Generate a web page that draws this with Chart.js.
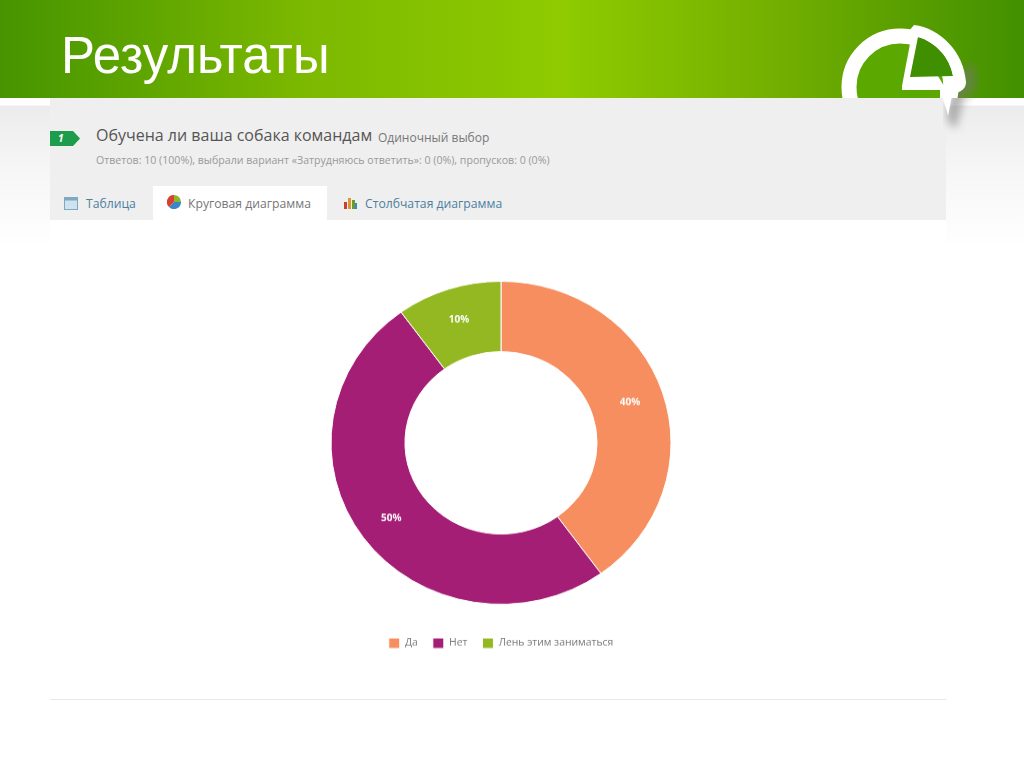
<!DOCTYPE html>
<html lang="ru">
<head>
<meta charset="utf-8">
<title>Результаты</title>
<script src="https://cdn.jsdelivr.net/npm/chart.js@4"></script>
<style>
html, body { margin: 0; padding: 0; background: #fff; overflow: hidden; }
#slide { position: relative; width: 1024px; height: 767px; overflow: hidden; font-family: "Open Sans", sans-serif;
    background: linear-gradient(#fff 105px, #ececec 106px, #f6f6f6 170px, #fff 250px); }
#header { position: absolute; left: 0; top: 0; width: 1024px; height: 98px;
    background: linear-gradient(90deg, #469400 0%, #7cb900 30%, #8fcb00 55%, #74b000 75%, #429000 100%); }
#title { position: absolute; left: 61px; top: 26px; color: #fff; font: 51px "Liberation Sans", Arial, sans-serif; line-height: 60px; }
#panel { position: absolute; left: 50px; top: 98px; width: 896px; height: 122px; background: #efefef; }
#body { position: absolute; left: 50px; top: 220px; width: 896px; height: 479px; background: #fff; border-bottom: 1px solid #e8e8e8; }
#chartCanvas { position: absolute; left: 0; top: 0; transform-origin: 0 0; transform: scaleY(0.95); }
.abs { position: absolute; white-space: nowrap; }
#question { left: 96px; top: 124px; font-size: 16px; color: #555; }
#qtype { left: 378px; top: 129px; font-size: 12px; color: #777; }
#stats { left: 96px; top: 153px; font-size: 10.6px; color: #999; }
#activeTab { position: absolute; left: 153px; top: 186px; width: 174px; height: 34px; background: #fff; }
.tab { top: 195px; font-size: 12.2px; color: #4d7f9f; }
#logo { position: absolute; left: 780px; top: 0; }
</style>
</head>
<body>
<div id="slide">
    <div id="header"></div>
    <div id="title">Результаты</div>
    <div id="panel"></div>
    <svg id="logo" width="244" height="160" viewBox="0 0 244 160">
        <defs>
            <filter id="soft"><feGaussianBlur stdDeviation="4"/></filter>
            <clipPath id="aboveFold"><rect x="0" y="0" width="244" height="98"/></clipPath>
        </defs>
        <path d="M190 62 C 202 82 196 92 184 98 L 176 128 C 162 124 166 104 176 80 Z" fill="#777" opacity="0.55" filter="url(#soft)"/>
        <g clip-path="url(#aboveFold)">
            <circle cx="120" cy="87" r="44" fill="#5aa800"/>
            <circle cx="120" cy="87" r="51" fill="none" stroke="#fff" stroke-width="15"/>
            <path d="M122 86 H168 V98 H160 V90 H122 Z" fill="#fff"/>
        </g>
        <path d="M122 86 L132 33 L164 86 Z" fill="#fff"/>
        <path d="M138 37 L130 77 L173 76 C 170 58 156 42 138 37 Z" fill="#3f8f00"/>
        <path d="M134 25 C 160 28 184 52 186 82 C 186 92 176 92 172 96 L168 116 C 166 104 160 98 162 86 L173 76 C 170 58 156 42 138 37 L128 32 Z" fill="#fff"/>
    </svg>
    <svg class="abs" style="left:50px;top:130px" width="32" height="17" viewBox="0 0 32 17">
        <path d="M0 1 H23 L30 8.5 L23 16 H0 Z" fill="#1d9c4c"/>
        <text x="8" y="12" font-size="10" font-style="italic" font-weight="700" fill="#fff" font-family="Open Sans">1</text>
    </svg>
    <div class="abs" id="question">Обучена ли ваша собака командам</div>
    <div class="abs" id="qtype">Одиночный выбор</div>
    <div class="abs" id="stats">Ответов: 10 (100%), выбрали вариант «Затрудняюсь ответить»: 0 (0%), пропусков: 0 (0%)</div>
    <div id="activeTab"></div>
    <svg class="abs" style="left:64px;top:197px" width="14" height="13"><rect x="0.5" y="0.5" width="13" height="12" fill="#cfe3ee" stroke="#7fa9c0"/><rect x="0.5" y="0.5" width="13" height="3" fill="#7fa9c0"/></svg>
    <div class="abs tab" style="left:86px">Таблица</div>
    <svg class="abs" style="left:167px;top:195px" width="14" height="14" viewBox="0 0 14 14">
        <path d="M7 7 V0 A7 7 0 0 1 14 7 Z" fill="#8db52b"/>
        <path d="M7 7 H14 A7 7 0 0 1 2 12 Z" fill="#3a87c8"/>
        <path d="M7 7 L2 12 A7 7 0 0 1 7 0 Z" fill="#d8402f"/>
    </svg>
    <div class="abs tab" style="left:188px;color:#777">Круговая диаграмма</div>
    <svg class="abs" style="left:343px;top:196px" width="15" height="14"><rect x="1" y="6" width="3" height="7" fill="#c8402f"/><rect x="5" y="2" width="3" height="11" fill="#d9992b"/><rect x="9" y="4" width="3" height="9" fill="#6a9c2b"/><rect x="12" y="7" width="2" height="6" fill="#3a87c8"/></svg>
    <div class="abs tab" style="left:365px">Столбчатая диаграмма</div>
    <div id="body"><canvas id="chartCanvas" width="896" height="504"></canvas></div>
</div>
<script>
const answers = ["Да", "Нет", "Лень этим заниматься"];
const answerPercents = [40, 50, 10];
const sliceColors = ["#f68e5f", "#a51e75", "#93b822"];

// percent text in the middle of every ring slice
const sliceLabels = {
    id: "sliceLabels",
    afterDatasetsDraw(chart) {
        const ctx = chart.ctx;
        const arcs = chart.getDatasetMeta(0).data;
        ctx.save();
        ctx.fillStyle = "#fff";
        ctx.font = "700 10px 'Open Sans'";
        ctx.textAlign = "center";
        ctx.textBaseline = "middle";
        arcs.forEach((arc, i) => {
            const pos = arc.tooltipPosition();
            // a touch further out than the ring's middle
            const x = arc.x + (pos.x - arc.x) * 1.02;
            const y = arc.y + (pos.y - arc.y) * 1.02;
            ctx.fillText(answerPercents[i] + "%", x, y);
        });
        ctx.restore();
    },
};

new Chart(document.querySelector("#chartCanvas").getContext("2d"), {
    type: "doughnut",
    data: {
        labels: answers,
        datasets: [
            {
                data: answerPercents,
                backgroundColor: sliceColors,
                borderColor: "#fff",
                borderWidth: 1,
                radius: 170,
                cutout: "56.5%",
            },
        ],
    },
    options: {
        responsive: false,
        animation: false,
        layout: {
            padding: { top: 44, bottom: 43, left: 6 },
        },
        plugins: {
            tooltip: { enabled: false },
            legend: {
                position: "bottom",
                labels: {
                    boxWidth: 11,
                    boxHeight: 11,
                    padding: 15,
                    color: "#777",
                    font: { family: "'Open Sans'", size: 10.4 },
                },
            },
        },
    },
    plugins: [sliceLabels],
});
</script>
</body>
</html>
